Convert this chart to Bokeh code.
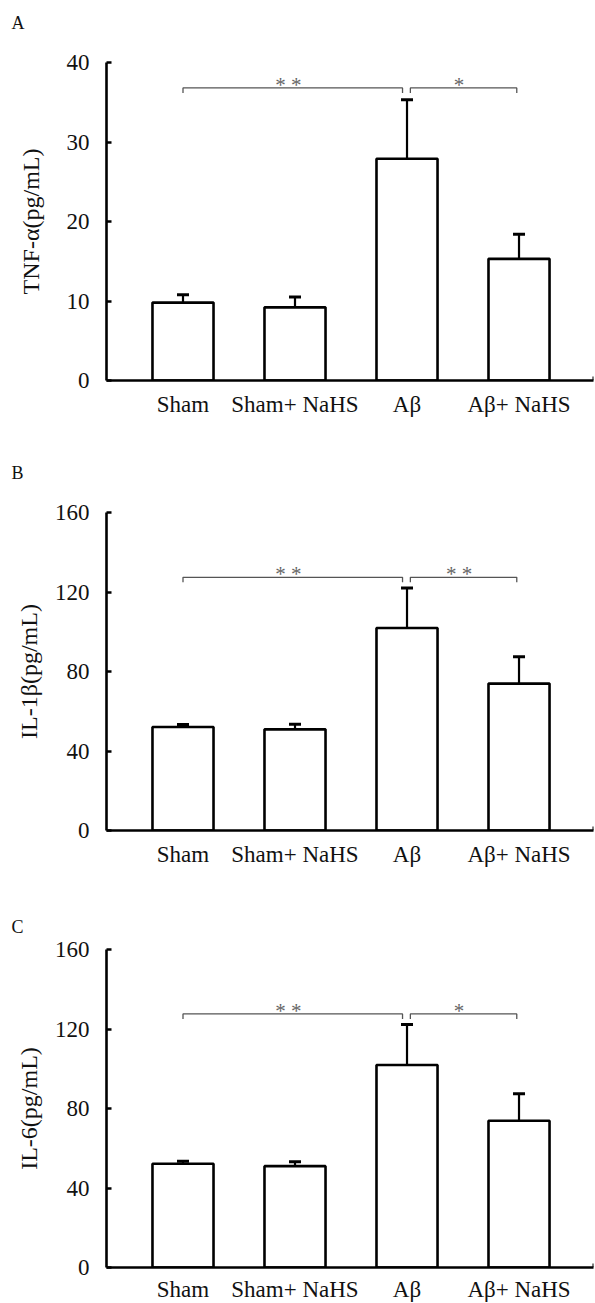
from bokeh.plotting import figure
from bokeh.models import Range1d, FixedTicker, Whisker, TeeHead, ColumnDataSource
from bokeh.layouts import column
from bokeh.embed import file_html
from bokeh.resources import INLINE
from bokeh.core.properties import value

# ---------------- data ----------------
categories = ["Sham", "Sham+ NaHS", "A\u03b2", "A\u03b2+ NaHS"]
positions = [1, 2, 3, 4]

tnf_mean = [9.8, 9.2, 27.9, 15.3]
tnf_err = [1.0, 1.3, 7.4, 3.1]

il1b_mean = [52.1, 50.9, 101.9, 73.9]
il1b_err = [1.2, 2.5, 20.1, 13.5]

il6_mean = [52.2, 51.0, 101.9, 73.8]
il6_err = [1.2, 2.2, 20.4, 13.6]

tnf_ticks = [0, 10, 20, 30, 40]
il_ticks = [0, 40, 80, 120, 160]

# significance brackets: (from, to, label)
tnf_sig = [(1.0, 2.96, "* *"), (3.03, 3.98, "*")]
il1b_sig = [(1.0, 2.96, "* *"), (3.03, 3.98, "* *")]
il6_sig = [(1.0, 2.96, "* *"), (3.03, 3.98, "*")]
tnf_bracket = 36.8
il1b_bracket = 127.4
il6_bracket = 127.6

# ---------------- style ----------------
FONT = "Liberation Serif"
FRAME_W, FRAME_H = 487, 318
BORDER_L, BORDER_R = 106, 2
X_START, X_END = 0.317, 4.665
BAR_W = 0.545


def panel(letter, ylabel, means, errs, yticks, sig, bracket_y, top, bottom,
          label_std, ylab_std, title_std, title_lines):
    ymax = yticks[-1]
    p = figure(frame_width=FRAME_W, frame_height=FRAME_H, output_backend="svg",
               toolbar_location=None,
               x_range=Range1d(X_START, X_END), y_range=Range1d(0, ymax),
               min_border_left=BORDER_L, min_border_right=BORDER_R,
               min_border_top=top, min_border_bottom=bottom)
    p.grid.visible = False
    p.outline_line_color = None
    p.background_fill_color = "white"
    p.border_fill_color = "white"

    p.title.text = letter + "\n " * (title_lines - 1)
    p.title.align = "left"
    p.title.vertical_align = "top"
    p.title.offset = -(BORDER_L - 11)
    p.title.text_font = FONT
    p.title.text_font_size = "18px"
    p.title.text_font_style = "normal"
    p.title.text_color = "#111111"
    p.title.standoff = title_std

    src = ColumnDataSource(dict(
        x=positions, top=means,
        upper=[m + e for m, e in zip(means, errs)],
    ))
    p.vbar(x="x", top="top", bottom=0, width=BAR_W, source=src,
           fill_color="white", line_color="black", line_width=2.6)
    p.add_layout(Whisker(source=src, base="x", lower="top", upper="upper",
                         line_color="black", line_width=2.2,
                         upper_head=TeeHead(size=12, line_width=3, line_color="black"),
                         lower_head=None))

    ppy = FRAME_H / ymax
    tick = 5 / ppy
    xs, ys = [], []
    for x0, x1, _ in sig:
        xs.append([x0, x0, x1, x1])
        ys.append([bracket_y - tick, bracket_y, bracket_y, bracket_y - tick])
    p.multi_line(xs=xs, ys=ys, line_color="#555555", line_width=1.3)
    p.text(x=[(a + b) / 2 - 0.04 for a, b, _ in sig], y=[bracket_y] * len(sig),
           text=[s for _, _, s in sig], text_font=value(FONT), text_font_size="21px",
           text_align="center", text_baseline="alphabetic", y_offset=-3,
           text_color="#666666")

    # small end tick of the x axis
    p.segment(x0=[X_END], y0=[0], x1=[X_END], y1=[4 / ppy], line_color="black", line_width=2)

    # axes
    xa = p.xaxis[0]
    xa.ticker = FixedTicker(ticks=positions)
    xa.major_label_overrides = {p_: c for p_, c in zip(positions, categories)}
    xa.major_tick_line_color = None
    xa.minor_tick_line_color = None
    xa.axis_line_width = 2.6
    xa.axis_line_color = "black"
    xa.major_label_text_font = FONT
    xa.major_label_text_font_size = "23px"
    xa.major_label_text_color = "#111111"
    xa.major_label_standoff = label_std

    ya = p.yaxis[0]
    ya.ticker = FixedTicker(ticks=yticks)
    ya.minor_tick_line_color = None
    ya.major_tick_in = 5
    ya.major_tick_out = 0
    ya.major_tick_line_width = 2.4
    ya.axis_line_width = 2.6
    ya.axis_line_color = "black"
    ya.major_label_text_font = FONT
    ya.major_label_text_font_size = "23px"
    ya.major_label_text_color = "#111111"
    ya.major_label_standoff = 17
    ya.axis_label = ylabel
    ya.axis_label_text_font = FONT
    ya.axis_label_text_font_size = "24px"
    ya.axis_label_text_font_style = "normal"
    ya.axis_label_text_color = "#111111"
    ya.axis_label_standoff = ylab_std
    return p


pa = panel("A", "TNF-\u03b1(pg/mL)", tnf_mean, tnf_err, tnf_ticks, tnf_sig, tnf_bracket,
           62, 71, 5, 20, 15, 2)
pb = panel("B", "IL-1\u03b2(pg/mL)", il1b_mean, il1b_err, il_ticks, il1b_sig, il1b_bracket,
           61, 73, 5, 10, 15, 2)
pc = panel("C", "IL-6(pg/mL)", il6_mean, il6_err, il_ticks, il6_sig, il6_bracket,
           46, 36, 3, 10, 22, 1)

layout = column(pa, pb, pc, spacing=0)
open("out.html", "w").write(file_html(layout, INLINE))
